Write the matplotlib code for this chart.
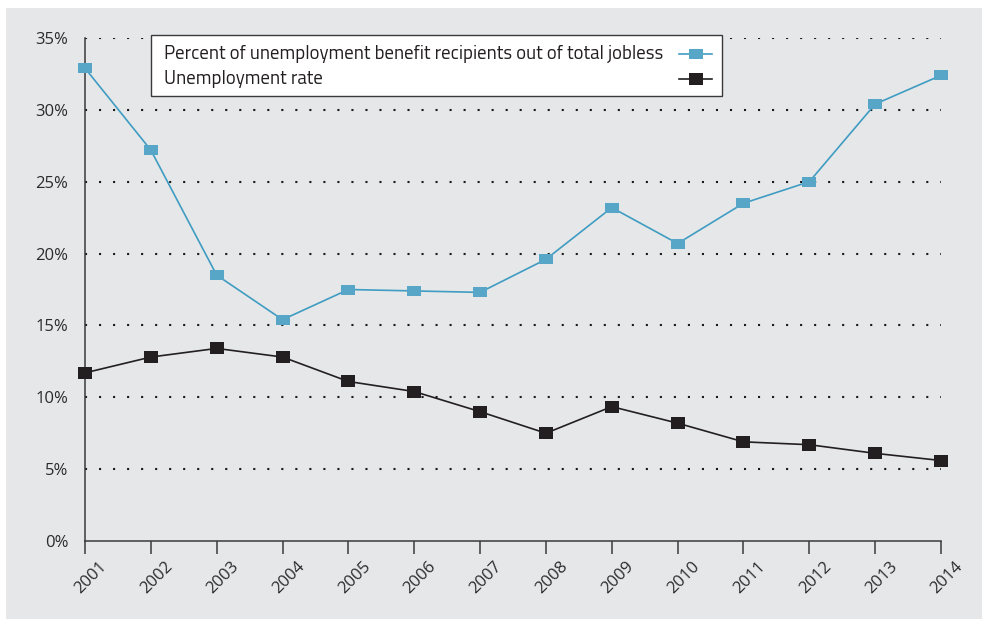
import matplotlib
matplotlib.use("Agg")
import matplotlib.pyplot as plt
from matplotlib.lines import Line2D
from matplotlib.path import Path
from matplotlib.transforms import ScaledTranslation
from matplotlib.ticker import FuncFormatter

plt.rcParams['font.family'] = ['Open Sans', 'DejaVu Sans']

# Data
years = [2001, 2002, 2003, 2004, 2005, 2006, 2007,
         2008, 2009, 2010, 2011, 2012, 2013, 2014]
benefit_share = [32.9, 27.2, 18.5, 15.4, 17.5, 17.4, 17.3,
                 19.6, 23.2, 20.7, 23.5, 25.0, 30.4, 32.4]
unemployment = [11.7, 12.8, 13.4, 12.8, 11.1, 10.4, 9.0,
                7.5, 9.35, 8.2, 6.9, 6.7, 6.1, 5.6]
series_labels = ["Percent of unemployment benefit recipients out of total jobless",
                 "Unemployment rate"]
y_ticks = [0, 5, 10, 15, 20, 25, 30, 35]

W, H = 982, 619
bg = '#e6e7e9'
blue = '#57a6c7'
blue_line = '#3f9cc2'
dark = '#231f20'
legend_font = ['Titillium Web', 'DejaVu Sans']

# flat rectangular markers
blue_box = Path([(-1, -0.77), (1, -0.77), (1, 0.77), (-1, 0.77), (-1, -0.77)],
                [Path.MOVETO, Path.LINETO, Path.LINETO, Path.LINETO, Path.CLOSEPOLY])
dark_box = Path([(-1, -0.9), (1, -0.9), (1, 0.9), (-1, 0.9), (-1, -0.9)],
                [Path.MOVETO, Path.LINETO, Path.LINETO, Path.LINETO, Path.CLOSEPOLY])


def fx(x):
    return x / W


def fy(y):
    return 1 - y / H


fig = plt.figure(figsize=(W / 100, H / 100), dpi=100)
fig.patch.set_facecolor('white')
# grey panel behind the plot
fig.patches.append(plt.Rectangle((fx(6), 0), 1, fy(8), transform=fig.transFigure,
                                 facecolor=bg, edgecolor='none', zorder=-10))

ax = fig.add_axes([fx(85), fy(541), fx(941 - 85), (541 - 38) / H])
ax.set_facecolor('none')
ax.set_zorder(2)

lines = []
lines += ax.plot(years, benefit_share, color=blue_line, lw=1.2, marker=blue_box, ms=9.4,
                 mfc=blue, mec=blue, mew=0, zorder=4, clip_on=False)
lines += ax.plot(years, unemployment, color=dark, lw=1.2, marker=dark_box, ms=10,
                 mfc=dark, mec=dark, mew=0, zorder=4, clip_on=False)

ax.set_xlim(years[0], years[-1])
ax.set_ylim(0, 35)
ax.set_yticks(y_ticks)
ax.yaxis.set_major_formatter(FuncFormatter(lambda v, p: f"{v:.0f}%"))
ax.set_xticks(years)
ax.set_xticklabels([str(y) for y in years])

for s in ['top', 'right']:
    ax.spines[s].set_visible(False)
for s in ['left', 'bottom']:
    ax.spines[s].set_color('#3a3a3a')
    ax.spines[s].set_linewidth(1.1)

ax.tick_params(axis='y', length=0, pad=12, labelsize=12, labelcolor='#2b2b2b')
ax.tick_params(axis='x', length=9.5, width=1.1, color='#3a3a3a', pad=3,
               labelsize=12, labelcolor='#2b2b2b')
offset = ScaledTranslation(14 / 100, 0, fig.dpi_scale_trans)
for lab in ax.get_xticklabels():
    lab.set_rotation(45)
    lab.set_ha('right')
    lab.set_va('top')
    lab.set_rotation_mode('anchor')
    lab.set_transform(lab.get_transform() + offset)

# dotted horizontal guides
for v in y_ticks[1:]:
    ax.axhline(v, color='#1a1a1a', lw=1.5, linestyle=(0, (1, 5.73)),
               dash_capstyle='butt', zorder=1)

# legend box: labels on the left, keys on the right
fig.patches.append(plt.Rectangle((fx(151), fy(96)), fx(722 - 151), (96 - 35) / H,
                                 transform=fig.transFigure, facecolor='white',
                                 edgecolor='#3a3a3a', lw=1.0, zorder=5))
rows_y = [54, 79]
for line, label, ry in zip(lines, series_labels, rows_y):
    fig.text(fx(164), fy(ry), label, family=legend_font, fontsize=13.5,
             color=dark, ha='left', va='center', zorder=6)
    key = Line2D([fx(679), fx(712)], [fy(ry), fy(ry)], transform=fig.transFigure,
                 color=line.get_color(), lw=1.2, zorder=6)
    key_mark = Line2D([fx(695.5)], [fy(ry)], transform=fig.transFigure,
                      marker=line.get_marker(), ms=line.get_markersize(),
                      mfc=line.get_markerfacecolor(), mew=0, ls='none', zorder=7)
    fig.lines.extend([key, key_mark])

fig.savefig('out.png', dpi=100, facecolor='white')
